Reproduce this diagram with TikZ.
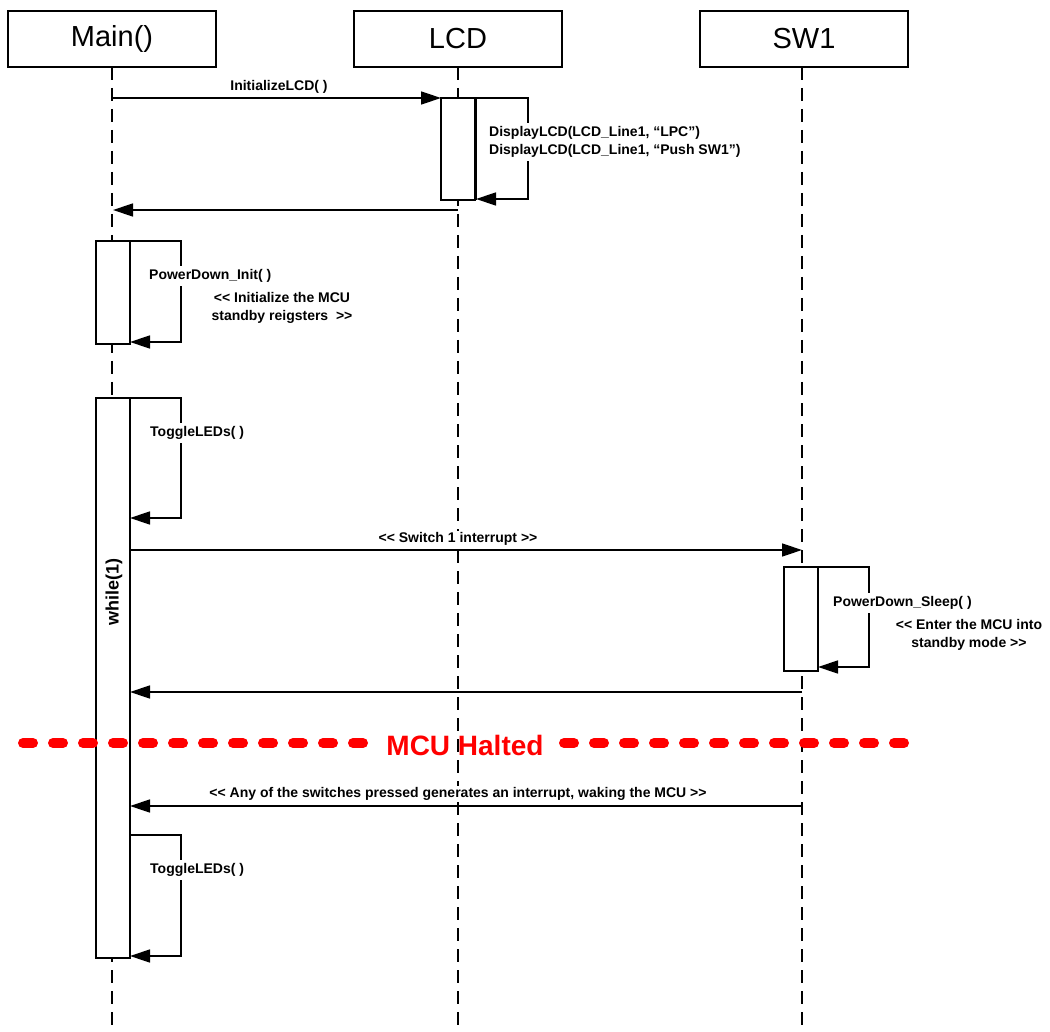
\documentclass[tikz,border=0pt]{standalone}
\usepackage{fontspec}
\setmainfont{Liberation Sans}[Ligatures=TeXOff]
\usetikzlibrary{arrows.meta,calc}
\begin{document}
\begin{tikzpicture}[x=1pt,y=-1pt,
  headbox/.style={draw,line width=1.4pt,fill=white,minimum width=208pt,minimum height=56pt,inner sep=0pt,outer sep=0pt,font=\fontsize{29}{34}\selectfont},
  life/.style={line width=1.3pt,dash pattern=on 13pt off 8pt},
  act/.style={draw,line width=1.4pt,fill=white,minimum width=34pt,inner sep=0pt,outer sep=0pt,anchor=north west},
  msg/.style={line width=1.4pt,-{Triangle[length=20pt,width=13pt]}},
  lbl/.style={font=\fontsize{14}{18}\selectfont\bfseries,inner sep=1pt,fill=white},
  note/.style={font=\fontsize{14}{18}\selectfont\bfseries,align=center,inner sep=0pt},
  wlbl/.style={lbl,fill=white,anchor=west,align=left,inner ysep=3pt},
  halt/.style={red,line width=10pt,line cap=round,dash pattern=on 10pt off 20pt}
]
\useasboundingbox (0,0) rectangle (1050,1032);
\fill[white] (0,0) rectangle (1050,1032);

% headers
\node[headbox] (mainH) at (112,39) {Main()};
\node[headbox] (lcdH) at (458,39) {LCD};
\node[headbox] (swH) at (804,39) {SW1};

% lifeline ends
\coordinate (mainEnd) at (112,1030);
\coordinate (lcdEnd) at (458,1030);
\coordinate (swEnd) at (802,1030);
\draw[life] (mainH.south) -- (mainEnd);
\draw[life] (lcdH.south) -- (lcdEnd);
\draw[life] ($(swH.south)+(-2,0)$) -- (swEnd);

% activation boxes
\node[act,minimum height=102pt] (lcdA) at (441,98) {};
\node[act,minimum height=103pt] (mainA) at (96,241) {};
\node[act,minimum height=560pt] (whileA) at (96,398) {};
\node[act,minimum height=104pt] (swA) at (784,567) {};
\draw[line width=1.4pt] ($(lcdA.north west)+(35,0)$) -- ($(lcdA.south west)+(35,0)$);
\draw[line width=1.4pt] ($(mainA.north west)+(34,0)$) -- ($(mainA.south west)+(34,0)$);
\draw[line width=1.4pt] ($(whileA.north west)+(34,0)$) -- ($(whileA.south west)+(34,0)$);
\draw[line width=1.4pt] ($(swA.north west)+(34,0)$) -- ($(swA.south west)+(34,0)$);
\node[font=\fontsize{18}{20}\selectfont\bfseries,rotate=90] (whileL) at (114,592) {while(1)};

% InitializeLCD
\coordinate (m1s) at (112,98);
\draw[msg] (m1s) -- (lcdA.north west);
\node[lbl] (m1l) at (279,87) {InitializeLCD( )};

% DisplayLCD self call
\coordinate (lcdS1) at (476,98);
\coordinate (lcdS2) at (476,199);
\draw[msg] (lcdS1) -- ++(52,0) -- ++(0,101) -- (lcdS2);
\node[wlbl] (lcdSl) at (488,142) {DisplayLCD(LCD\_Line1, “LPC”)\\DisplayLCD(LCD\_Line1, “Push SW1”)};

% return to main
\coordinate (r1s) at (458,210);
\coordinate (r1e) at (113,210);
\draw[msg] (r1s) -- (r1e);

% PowerDown_Init
\coordinate (pS1) at (130,241);
\coordinate (pS2) at (130,342);
\draw[msg] (pS1) -- ++(51,0) -- ++(0,101) -- (pS2);
\node[wlbl] (pSl) at (148,276) {PowerDown\_Init( )};
\node[note] (pNote) at (282,308) {<< Initialize the MCU\\standby reigsters~~>>};

% ToggleLEDs 1
\coordinate (t1S1) at (130,398);
\coordinate (t1S2) at (130,518);
\draw[msg] (t1S1) -- ++(51,0) -- ++(0,120) -- (t1S2);
\node[wlbl] (t1l) at (149,433) {ToggleLEDs( )};

% Switch 1 interrupt
\coordinate (s1s) at (130,550);
\coordinate (s1e) at (802,550);
\draw[msg] (s1s) -- (s1e);
\node[lbl] (s1l) at (458,539) {<< Switch 1 interrupt >>};

% PowerDown_Sleep
\coordinate (psS1) at (818,567);
\coordinate (psS2) at (818,667);
\draw[msg] (psS1) -- ++(51,0) -- ++(0,100) -- (psS2);
\node[wlbl] (psl) at (832,603) {PowerDown\_Sleep( )};
\node[note] (psNote) at (969,635) {<< Enter the MCU into\\standby mode >>};

% return from SW1
\coordinate (r2s) at (802,692);
\coordinate (r2e) at (130,692);
\draw[msg] (r2s) -- (r2e);

% MCU halted
\node[red,font=\fontsize{28}{32}\selectfont\bfseries,inner sep=0pt] (halt) at (465,745) {MCU Halted};
\coordinate (hL) at (23,743);
\coordinate (hLe) at (363,743);
\coordinate (hR) at (564,743);
\coordinate (hRe) at (904,743);
\draw[halt] (hL) -- (hLe);
\draw[halt] (hR) -- (hRe);

% wake interrupt
\coordinate (wks) at (802,806);
\coordinate (wke) at (130,806);
\draw[msg] (wks) -- (wke);
\node[lbl] (wkl) at (458,794) {<< Any of the switches pressed generates an interrupt, waking the MCU >>};

% ToggleLEDs 2
\coordinate (t2S1) at (130,835);
\coordinate (t2S2) at (130,956);
\draw[msg] (t2S1) -- ++(51,0) -- ++(0,121) -- (t2S2);
\node[wlbl] (t2l) at (149,870) {ToggleLEDs( )};
\end{tikzpicture}
\end{document}
